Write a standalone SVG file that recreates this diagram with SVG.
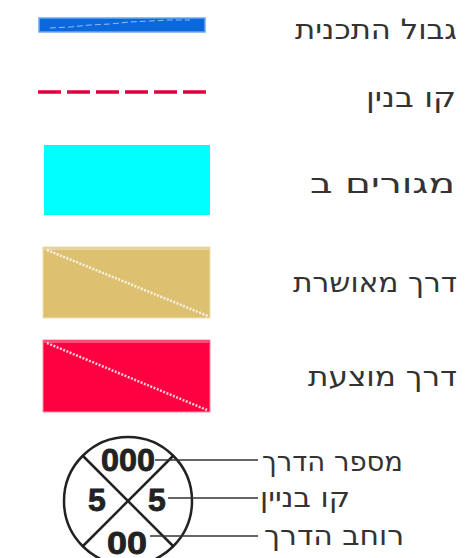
<svg xmlns="http://www.w3.org/2000/svg" width="473" height="558" viewBox="0 0 473 558">
<style>
.lbl{font-family:"DejaVu Sans",sans-serif;font-size:28px;fill:#333;text-anchor:end}
.num{font-family:"Liberation Sans",Arial,sans-serif;font-weight:bold;font-size:32px;fill:#222;stroke:#222;stroke-width:0.8;text-anchor:middle}
.ln{stroke:#333;stroke-width:1.5;fill:none}
.dg{stroke:#fff;stroke-width:2.5;stroke-dasharray:2 1.5;fill:none;opacity:0.8}
</style>
<rect width="473" height="558" fill="#fff"/>
<g id="plan-border">
<rect x="39" y="18" width="166" height="14" fill="#0a68dc" stroke="#6ea8ee" stroke-width="1.5"/>
<polyline points="50,28 70,27 90,25 110,24 130,22 150,21 170,20 190,20" fill="none" stroke="#fff" stroke-width="0.8" stroke-dasharray="6 3" opacity="0.7"/>
<text class="lbl" x="457" y="39" textLength="162" lengthAdjust="spacingAndGlyphs">גבול התכנית</text>
</g>
<g id="building-line">
<line x1="38" y1="92" x2="206" y2="92" stroke="#e2003c" stroke-width="3.5" stroke-dasharray="23 6"/>
<text class="lbl" x="456" y="107" textLength="90" lengthAdjust="spacingAndGlyphs">קו בנין</text>
</g>
<g id="residential-b">
<rect x="44" y="145" width="166" height="70" fill="#00ffff"/>
<text class="lbl" x="455" y="193" textLength="145" lengthAdjust="spacingAndGlyphs">מגורים ב</text>
</g>
<g id="approved-road">
<rect x="43" y="247" width="167" height="71" fill="#ddc170" stroke="#efe0b8" stroke-width="1"/>
<line x1="44" y1="249" x2="209" y2="249" stroke="#f3e8cc" stroke-width="1"/>
<line x1="47" y1="250" x2="208" y2="316" class="dg"/>
<text class="lbl" x="457" y="292" textLength="164" lengthAdjust="spacingAndGlyphs">דרך מאושרת</text>
</g>
<g id="proposed-road">
<rect x="43" y="340" width="167" height="72" fill="#ff0040" stroke="#ff8fa8" stroke-width="1"/>
<line x1="44" y1="342" x2="209" y2="342" stroke="#ff9ab0" stroke-width="1"/>
<line x1="47" y1="343" x2="207" y2="410" class="dg"/>
<text class="lbl" x="457" y="386" textLength="149" lengthAdjust="spacingAndGlyphs">דרך מוצעת</text>
</g>
<g id="road-symbol">
<circle cx="128" cy="501" r="64" fill="#fff" stroke="#222" stroke-width="2.5"/>
<line x1="83" y1="456" x2="173" y2="546" stroke="#222" stroke-width="2.5"/>
<line x1="173" y1="456" x2="83" y2="546" stroke="#222" stroke-width="2.5"/>
<text class="num" x="128" y="471" textLength="54" lengthAdjust="spacingAndGlyphs">000</text>
<text class="num" x="97" y="511">5</text>
<text class="num" x="157" y="511">5</text>
<text class="num" x="127" y="554" textLength="40" lengthAdjust="spacingAndGlyphs">00</text>
</g>
<g id="connectors">
<line class="ln" x1="155" y1="460" x2="258" y2="460"/>
<line class="ln" x1="168" y1="498" x2="258" y2="498"/>
<line class="ln" x1="150" y1="536" x2="258" y2="536"/>
</g>
<g id="labels">
<text class="lbl" x="403" y="471" textLength="141" lengthAdjust="spacingAndGlyphs">מספר הדרך</text>
<text class="lbl" x="350" y="507" textLength="90" lengthAdjust="spacingAndGlyphs">קו בניין</text>
<text class="lbl" x="404" y="545" textLength="140" lengthAdjust="spacingAndGlyphs">רוחב הדרך</text>
</g>
</svg>
